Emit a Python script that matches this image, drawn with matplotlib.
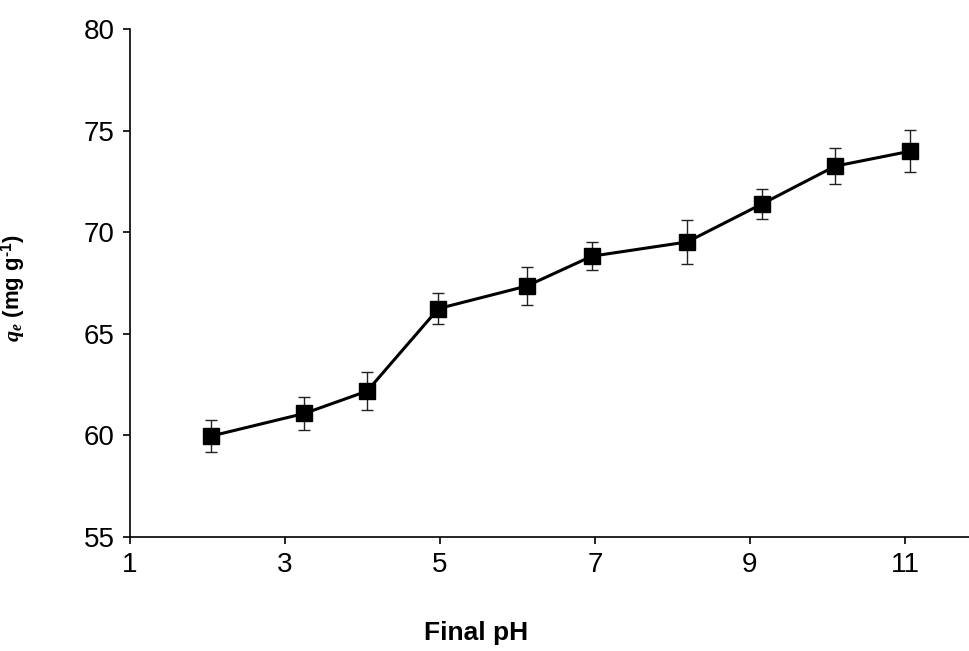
import matplotlib
matplotlib.use("Agg")
import matplotlib.pyplot as plt
import numpy as np

plt.rcParams['font.family'] = ['Liberation Sans', 'DejaVu Sans']
plt.rcParams['mathtext.fontset'] = 'custom'
plt.rcParams['mathtext.it'] = 'Liberation Serif:italic:bold'
plt.rcParams['mathtext.rm'] = 'Liberation Sans:bold'

# final pH vs adsorption capacity
final_ph = [2.05, 3.25, 4.06, 4.98, 6.12, 6.96, 8.19, 9.15, 10.10, 11.06]
qe = [59.97, 61.08, 62.18, 66.24, 67.35, 68.82, 69.52, 71.38, 73.25, 73.98]
qe_err = [0.80, 0.80, 0.93, 0.75, 0.93, 0.70, 1.08, 0.73, 0.90, 1.04]

W, H = 970, 651
fig = plt.figure(figsize=(W / 100, H / 100), dpi=100)
ax = fig.add_axes([130 / W, 1 - 537 / H, 840 / W, 508 / H])

ax.errorbar(final_ph, qe, yerr=qe_err, color='black', linewidth=2.2,
            marker='s', markersize=12, ecolor='#222222', elinewidth=1.0,
            capsize=4, capthick=1.0, zorder=3)

ax.set_xlim(1, 11.84)
ax.set_ylim(55, 80)
ax.set_xticks([1, 3, 5, 7, 9, 11])
ax.set_yticks([55, 60, 65, 70, 75, 80])

ax.spines['top'].set_visible(False)
ax.spines['right'].set_visible(False)
for s in ('left', 'bottom'):
    ax.spines[s].set_linewidth(1.2)
ax.tick_params(direction='out', length=5, width=1.2, labelsize=20, pad=6)

ax.set_xlabel("Final pH", fontsize=19, fontweight='bold')
ax.xaxis.set_label_coords(0.412, -0.165)
ax.set_ylabel(r"$q_e$ (mg g$^{\text{-}1}$)", fontsize=16, fontweight='bold')
ax.yaxis.set_label_coords(-0.121, 0.49)

fig.savefig("out.png", dpi=100)
